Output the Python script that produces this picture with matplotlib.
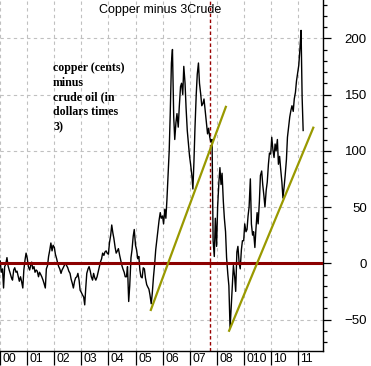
import matplotlib
matplotlib.use("Agg")
import matplotlib.pyplot as plt
import matplotlib.dates as mdates
import matplotlib.transforms as mtransforms
import pandas as pd

# copper (cents) minus 3 x crude oil ($), twice a month
s2000 = [2, -8, -5, -22, -3, -1, 5, -2, -6, -9, -13, -15, -6, -4, -8, -7, -12, -16, -12, -16, -22, -6, 3, 9]
s2001 = [4, -3, -6, -2, 1, -5, -3, -8, -6, -7, -12, -8, -10, -12, -15, -18, -22, -5, -2, 6, 12, 18, 11, 16]
s2002 = [14, 8, 4, 0, -3, -5, -9, -6, -4, -2, 0, -2, -4, -7, -9, -14, -18, -22, -16, -13, -12, -9, -15, -24]
s2003 = [-26, -28, -30, -37, -22, -9, -5, -3, -7, -12, -15, -9, -13, -15, -12, -8, -3, 1, 4, 9, 7, 10, 11, 9]
s2004 = [8, 18, 25, 34, 27, 22, 14, 9, 11, 13, 7, 3, -2, -5, -8, -12, -12, -3, -34, -20, 5, 12, 24, 30]
s2005 = [16, 12, 4, 6, -6, -12, -13, -4, -5, -13, -19, -21, -23, -28, -36, -27, -12, -2, 12, 20, 30, 38, 45, 40]
s2006 = [42, 35, 48, 40, 56, 75, 100, 133, 178, 190, 130, 110, 125, 133, 121, 139, 157, 160, 150, 175, 160, 138, 118, 108]
s2007 = [95, 88, 78, 66, 90, 120, 150, 168, 178, 160, 150, 140, 142, 146, 135, 125, 115, 120, 112, 108, 110, 20, 6, 40]
s2008 = [15, 50, 72, 85, 70, 80, 55, 40, 28, 5, -10, -20, -58, -40, -20, -2, -12, -25, 10, 15, 0, -5, 12, 20]
s2009 = [20, 35, 28, 30, 42, 50, 75, 35, 25, 28, 14, 30, 45, 35, 55, 78, 82, 70, 60, 50, 65, 72, 88, 98]
s2010 = [97, 112, 100, 94, 106, 100, 110, 88, 95, 84, 72, 58, 68, 78, 92, 112, 122, 130, 136, 140, 135, 146, 152, 162]
s2011 = [170, 176, 192, 207, 148, 118]

spread = s2000 + s2001 + s2002 + s2003 + s2004 + s2005 + s2006 + s2007 + s2008 + s2009 + s2010 + s2011
dates = pd.date_range("2000-01-01", periods=len(spread), freq="SMS")

# olive support lines
trend1_dates = pd.to_datetime(["2005-07-27", "2008-05-05"])
trend1_vals = [-41.5, 139]
trend2_dates = pd.to_datetime(["2008-06-18", "2011-07-30"])
trend2_vals = [-60, 120.5]

marker_date = pd.Timestamp("2007-10-08")
year_labels = ["00", "01", "02", "03", "04", "05", "06", "07", "08", "010", "10", "11"]

W, H = 371, 366
fig = plt.figure(figsize=(W / 100, H / 100), dpi=100)
ax = fig.add_axes([0, 15 / H, 322.7 / W, 351 / H])

ax.plot(dates, spread, color="black", lw=1.0, zorder=3)
ax.axhline(0, color="#8b0000", lw=2.2, zorder=4)
ax.axvline(marker_date, color="#990000", lw=1, ls=(0, (2.5, 1.8)), zorder=2)
ax.plot(trend1_dates, trend1_vals, color="#999900", lw=1.6, zorder=5)
ax.plot(trend2_dates, trend2_vals, color="#999900", lw=1.6, zorder=5)

ax.set_xlim(pd.Timestamp("1999-12-29"), pd.Timestamp("2011-12-04"))
ax.set_ylim(-78, 234)

for sp in ["left", "top"]:
    ax.spines[sp].set_visible(False)
ax.spines["right"].set_linewidth(1)
ax.spines["bottom"].set_linewidth(1)

# y axis on the right
ax.yaxis.tick_right()
ax.set_yticks([-50, 0, 50, 100, 150, 200])
ax.set_yticks(range(-70, 231, 10), minor=True)
ax.tick_params(axis="y", which="major", direction="out", length=5.8, width=0.9, pad=26,
               labelsize=9.5)
ax.tick_params(axis="y", which="minor", direction="out", length=2.9, width=0.9)
for lab in ax.get_yticklabels():
    lab.set_horizontalalignment("right")
    lab.set_fontfamily("Liberation Sans")

# x axis: year ticks with labels to the right of each tick
ax.xaxis.set_major_locator(mdates.YearLocator())
ticks = pd.date_range("2000-01-01", periods=len(year_labels), freq="YS")
ax.set_xticks(ticks)
ax.set_xticklabels(year_labels)
ax.tick_params(axis="x", which="major", direction="out", length=10, width=0.9, pad=-8.6,
               labelsize=8.8)
shift = mtransforms.ScaledTranslation(2.5 / 100, 0, fig.dpi_scale_trans)
for lab in ax.get_xticklabels():
    lab.set_horizontalalignment("left")
    lab.set_fontfamily("Liberation Sans")
    lab.set_transform(lab.get_transform() + shift)

ax.grid(True, which="major", color="#c0c0c0", ls=(0, (3, 3)), lw=0.8)
ax.set_axisbelow(True)

fig.text(160.5 / W, 1 - 10 / H, "Copper minus 3Crude", ha="center", va="center",
         fontsize=9, family="Liberation Sans")
fig.text(53 / W, 1 - 62 / H, "copper (cents)\nminus\ncrude oil (in\ndollars times\n3)",
         ha="left", va="top", fontsize=8.6, fontweight="bold", family="Liberation Serif",
         linespacing=1.3)

fig.savefig("out.png", dpi=100)
